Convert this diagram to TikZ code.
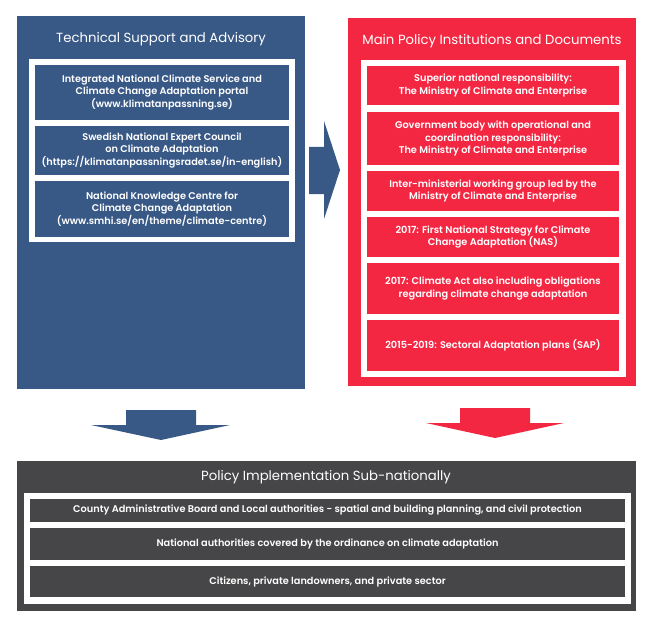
\documentclass[tikz,border=0pt]{standalone}
\usepackage{fontspec}
\setmainfont{Poppins}
\newfontfamily\cellfont{Poppins SemiBold}
\definecolor{tsblue}{RGB}{56,88,134}
\definecolor{mpred}{RGB}{244,39,67}
\definecolor{pidark}{RGB}{70,69,71}
\begin{document}
\begin{tikzpicture}[x=1bp, y=-1bp,
  panel/.style={anchor=north west, inner sep=0pt, outer sep=0pt},
  frame/.style={anchor=north west, inner sep=0pt, outer sep=0pt, fill=white},
  cell/.style={anchor=north west, inner sep=0pt, outer sep=0pt, text=white, align=center,
    font=\cellfont\fontsize{9.8}{12.2}\selectfont},
  rowcell/.style={cell, font=\cellfont\fontsize{9.8}{11}\selectfont},
  heading/.style={text=white, inner sep=0pt, font=\fontsize{13.3}{15}\selectfont}]
\useasboundingbox (0,0) rectangle (659,629);

\node[panel, fill=tsblue, minimum width=288bp, minimum height=373bp] (tsa) at (17,16) {};
\node[heading] (tsatitle) at (161,39) {Technical Support and Advisory};
\node[frame, minimum width=266bp, minimum height=183bp] (tsaframe) at (29,59) {};

\node[cell, fill=tsblue, minimum width=254bp, minimum height=55bp] (portal) at (35,65)
{Integrated National Climate Service and\\Climate Change Adaptation portal\\(www.klimatanpassning.se)};

\node[cell, fill=tsblue, minimum width=254bp, minimum height=49bp] (council) at (35,126)
{Swedish National Expert Council\\on Climate Adaptation\\(https://klimatanpassningsradet.se/in-english)};

\node[cell, fill=tsblue, minimum width=254bp, minimum height=56bp] (centre) at (35,181)
{National Knowledge Centre for\\Climate Change Adaptation\\(www.smhi.se/en/theme/climate-centre)};

\node[panel, fill=mpred, minimum width=288bp, minimum height=368bp] (mpi) at (348,18) {};
\node[heading] (mpititle) at (492,41) {Main Policy Institutions and Documents};
\node[frame, minimum width=265bp, minimum height=317bp] (mpiframe) at (361,60) {};

\node[cell, fill=mpred, minimum width=252bp, minimum height=39bp] (superior) at (367,66)
{Superior national responsibility:\\The Ministry of Climate and Enterprise};

\node[cell, fill=mpred, minimum width=252bp, minimum height=53bp] (govbody) at (367,112)
{Government body with operational and\\coordination responsibility:\\The Ministry of Climate and Enterprise};

\node[cell, fill=mpred, minimum width=252bp, minimum height=40bp] (interm) at (367,171)
{Inter-ministerial working group led by the\\Ministry of Climate and Enterprise};

\node[cell, fill=mpred, minimum width=252bp, minimum height=40bp] (nas) at (367,217)
{2017: First National Strategy for Climate\\Change Adaptation (NAS)};

\node[cell, fill=mpred, minimum width=252bp, minimum height=51bp] (act) at (367,263)
{2017: Climate Act also including obligations\\regarding climate change adaptation};

\node[cell, fill=mpred, minimum width=252bp, minimum height=51bp] (sap) at (367,320)
{2015-2019: Sectoral Adaptation plans (SAP)};

\fill[tsblue] (309,147) -- (324,147) -- (324,121) -- (340,170) -- (324,219) -- (324,194) -- (309,194) -- cycle;
\fill[tsblue] (126,410) -- (196,410) -- (196,425) -- (230,425) -- (161,440) -- (91,425) -- (126,425) -- cycle;
\fill[mpred] (460,408) -- (530,408) -- (530,423) -- (564,423) -- (495,438) -- (426,423) -- (460,423) -- cycle;

\node[panel, fill=pidark, minimum width=619bp, minimum height=150bp] (pis) at (17,461) {};
\node[heading] (pistitle) at (326,477) {Policy Implementation Sub-nationally};
\node[frame, minimum width=607bp, minimum height=111bp] (pisframe) at (24,493) {};

\node[rowcell, fill=pidark, minimum width=595bp, minimum height=23bp] (county) at (30,499)
{County Administrative Board and Local authorities - spatial and building planning, and civil protection};

\node[rowcell, fill=pidark, minimum width=595bp, minimum height=32bp] (natauth) at (30,528)
{National authorities covered by the ordinance on climate adaptation};

\node[rowcell, fill=pidark, minimum width=595bp, minimum height=31bp] (citizens) at (30,566)
{Citizens, private landowners, and private sector};
\end{tikzpicture}
\end{document}
